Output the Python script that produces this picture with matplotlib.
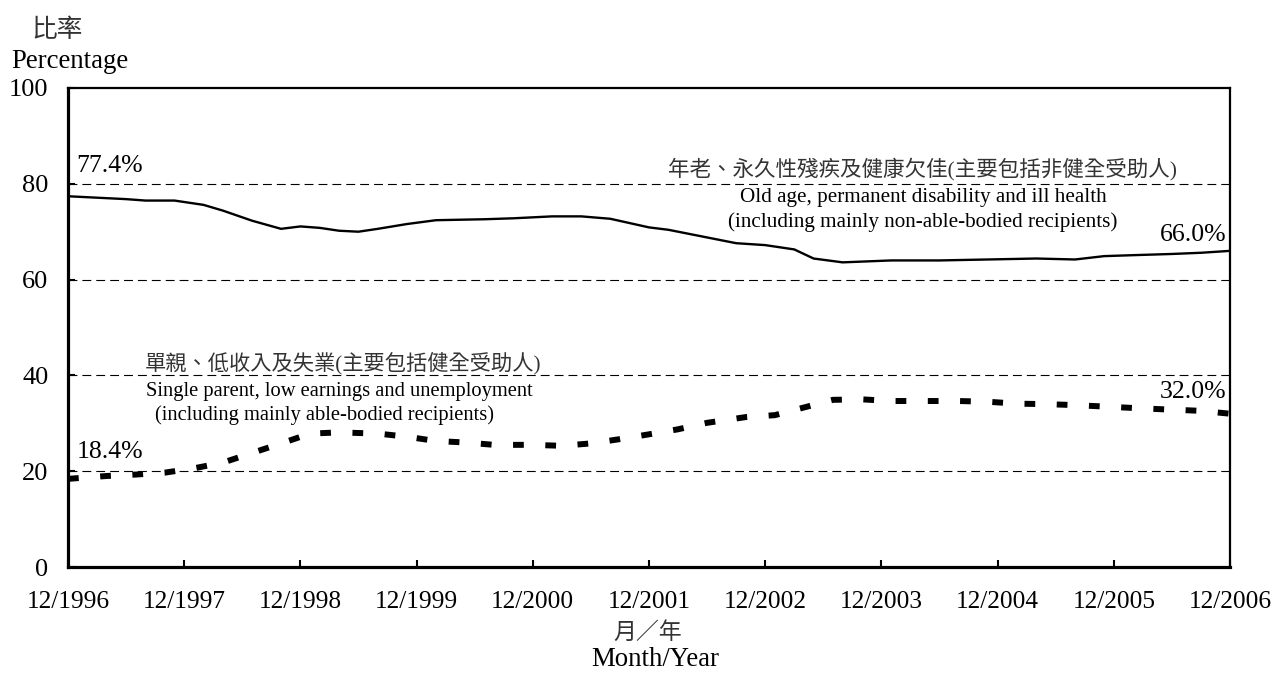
import matplotlib
matplotlib.use("Agg")
import matplotlib.pyplot as plt

plt.rcParams['font.family'] = ['Liberation Serif', 'Noto Sans CJK TC']

# months since 12/1996
months_old = [0, 4, 6, 8, 11, 14, 16, 19, 22, 24, 26, 28, 30, 32, 35, 38, 43, 46, 50, 53,
              56, 58, 60, 62, 65, 69, 72, 75, 77, 80, 85, 90, 95, 100, 104, 107, 110, 114, 117, 120]
old_age = [77.4, 77.0, 76.8, 76.5, 76.5, 75.6, 74.4, 72.3, 70.6, 71.1, 70.8, 70.2, 70.0, 70.6,
           71.6, 72.4, 72.6, 72.8, 73.2, 73.2, 72.7, 71.8, 70.9, 70.4, 69.2, 67.6, 67.2, 66.3,
           64.4, 63.6, 64.0, 64.0, 64.2, 64.4, 64.2, 64.9, 65.1, 65.35, 65.6, 66.0]

months_single = [0, 4, 7, 10, 13, 16, 19, 22, 25, 28, 32, 35, 38, 41, 44, 48, 51, 54, 57, 60,
                 63, 66, 70, 73, 76, 79, 82, 85, 88, 92, 95, 98, 101, 104, 108, 111, 114, 117, 120]
single_parent = [18.4, 19.0, 19.3, 19.7, 20.6, 21.8, 23.8, 25.8, 27.85, 28.1, 27.85, 27.2, 26.3,
                 26.0, 25.5, 25.5, 25.3, 25.8, 26.7, 27.7, 28.75, 30.1, 31.3, 31.7, 33.3, 34.9,
                 35.0, 34.65, 34.65, 34.65, 34.5, 34.1, 34.0, 33.8, 33.4, 33.1, 32.85, 32.6, 32.0]

tick_months = [0, 12, 24, 36, 48, 60, 72, 84, 96, 108, 120]
tick_labels = ['12/1996', '12/1997', '12/1998', '12/1999', '12/2000', '12/2001',
               '12/2002', '12/2003', '12/2004', '12/2005', '12/2006']
y_ticks = [0, 20, 40, 60, 80, 100]

fig = plt.figure(figsize=(12.77, 6.73), dpi=100)
ax = fig.add_axes([68/1277, 1 - 567/673, (1230-68)/1277, (567-88)/673])

for yv in y_ticks[1:-1]:
    ax.axhline(yv, color='black', lw=0.8, ls=(0, (8, 4.5)), zorder=1)

ax.plot(months_old, old_age, color='black', lw=1.7, zorder=3)
ax.plot(months_single, single_parent, color='black', lw=4.3,
        dashes=(1.8, 3.6), dash_capstyle='butt', zorder=3)

ax.set_xlim(0, 120)
ax.set_ylim(0, 100)
ax.set_xticks(tick_months)
ax.set_xticklabels(tick_labels)
ax.set_yticks(y_ticks)
ax.tick_params(axis='both', direction='in', length=5, width=1.5, colors='black')
ax.tick_params(axis='y', pad=14, labelsize=19)
ax.tick_params(axis='x', pad=17, labelsize=18.3)

for side in ['left', 'bottom']:
    ax.spines[side].set_linewidth(2.3)
for side in ['top', 'right']:
    ax.spines[side].set_linewidth(1.6)

cjk_color = '#333333'
pct_size = 18.5
ax.text(0.85, 82.5, f"{old_age[0]:.1f}%", fontsize=pct_size, ha='left', va='baseline')
ax.text(119.6, 68.1, f"{old_age[-1]:.1f}%", fontsize=pct_size, ha='right', va='baseline')
ax.text(0.9, 22.7, f"{single_parent[0]:.1f}%", fontsize=pct_size, ha='left', va='baseline')
ax.text(119.6, 35.2, f"{single_parent[-1]:.1f}%", fontsize=pct_size, ha='right', va='baseline')

ax.text(88.2, 83.0, "年老、永久性殘疾及健康欠佳(主要包括非健全受助人)", fontsize=15.5,
        ha='center', va='center', color=cjk_color)
ax.text(88.3, 77.1, "Old age, permanent disability and ill health", fontsize=15.2,
        ha='center', va='center')
ax.text(88.3, 71.9, "(including mainly non-able-bodied recipients)", fontsize=15.2,
        ha='center', va='center')

ax.text(7.9, 42.6, "單親、低收入及失業(主要包括健全受助人)", fontsize=15.3,
        ha='left', va='center', color=cjk_color)
ax.text(8.1, 36.6, "Single parent, low earnings and unemployment", fontsize=14.8,
        ha='left', va='center')
ax.text(9.0, 31.7, "(including mainly able-bodied recipients)", fontsize=14.8,
        ha='left', va='center')

fig.text(57/1277, 1 - 30/673, "比率", fontsize=18.5, ha='center', va='center', color=cjk_color)
fig.text(70/1277, 1 - 62/673, "Percentage", fontsize=19.3, ha='center', va='center')
fig.text(648/1277, 1 - 633/673, "月／年", fontsize=16.5, ha='center', va='center', color=cjk_color)
fig.text(655/1277, 1 - 660/673, "Month/Year", fontsize=19.3, ha='center', va='center')

fig.savefig("out.png", dpi=100)
